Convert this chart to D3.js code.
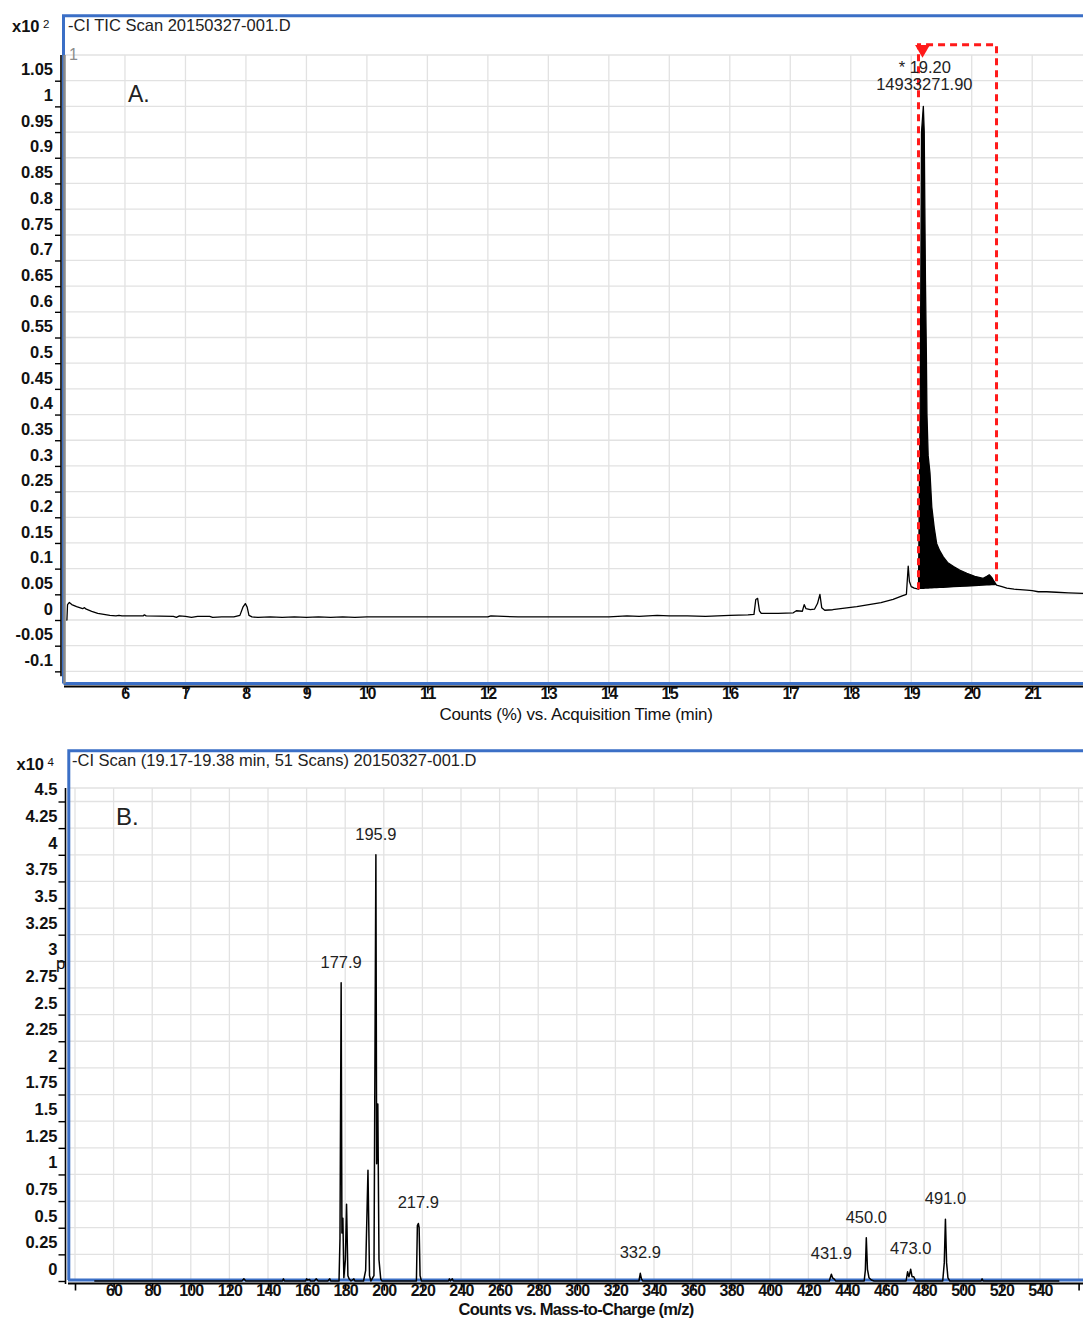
<!DOCTYPE html>
<html>
<head>
<meta charset="utf-8">
<script src="https://cdn.jsdelivr.net/npm/d3@7"></script>
<style>
  html, body { margin: 0; padding: 0; background: #ffffff; }
  svg { display: block; font-family: "Liberation Sans", Arial, Helvetica, sans-serif; }
</style>
</head>
<body>
<svg id="chart" width="1083" height="1320"></svg>
<script>
// ---------- Panel A: TIC chromatogram (Counts %, x10^2) ----------
const ticTime = [
  5.03, 5.04, 5.05, 5.08, 5.12, 5.20, 5.30, 5.33, 5.36, 5.45, 5.55, 5.65, 5.75, 5.85, 5.90, 5.95,
  6.30, 6.32, 6.35, 6.80, 6.85, 6.90, 7.00, 7.10, 7.20, 7.40, 7.45, 7.60, 7.80, 7.90, 7.95, 7.99,
  8.02, 8.05, 8.10, 8.20, 8.40, 8.60, 8.80, 9.00, 9.20, 9.40, 9.60, 9.80, 10.0, 10.5, 11.0, 11.5,
  12.0, 12.05, 12.5, 13.0, 13.5, 14.0, 14.3, 14.5, 14.8, 15.0, 15.3, 15.6, 16.0, 16.3, 16.40, 16.43,
  16.46, 16.49, 16.52, 16.8, 17.05, 17.10, 17.20, 17.23, 17.26, 17.33, 17.40, 17.45, 17.49, 17.52,
  17.57, 17.7, 17.9, 18.1, 18.3, 18.5, 18.7, 18.85, 18.92, 18.95, 18.97, 19.00, 19.05, 19.12,
  19.15, 19.17, 19.20, 19.215, 19.225, 19.235, 19.25, 19.26, 19.28, 19.31, 19.34, 19.38, 19.42,
  19.47, 19.53, 19.60, 19.70, 19.80, 19.92, 20.05, 20.19, 20.25, 20.29, 20.33, 20.37, 20.41,
  20.50, 20.58, 20.70, 20.80, 20.91, 21.00, 21.10, 21.24, 21.40, 21.60, 21.84
];
const ticCounts = [
  0.000, 0.000, 0.030, 0.034, 0.030, 0.026, 0.022, 0.024, 0.021, 0.017, 0.013, 0.011, 0.009, 0.008, 0.009, 0.008,
  0.008, 0.010, 0.008, 0.007, 0.005, 0.008, 0.007, 0.005, 0.007, 0.007, 0.005, 0.006, 0.006, 0.009, 0.025, 0.032,
  0.025, 0.009, 0.006, 0.005, 0.006, 0.005, 0.006, 0.005, 0.006, 0.005, 0.006, 0.005, 0.006, 0.006, 0.006, 0.006,
  0.006, 0.008, 0.006, 0.006, 0.006, 0.006, 0.008, 0.007, 0.009, 0.008, 0.008, 0.007, 0.009, 0.010, 0.011, 0.040,
  0.042, 0.018, 0.013, 0.013, 0.014, 0.018, 0.017, 0.030, 0.022, 0.020, 0.021, 0.032, 0.050, 0.024,
  0.019, 0.020, 0.023, 0.026, 0.030, 0.034, 0.040, 0.047, 0.050, 0.105, 0.075, 0.065, 0.062, 0.060,
  0.450, 0.950, 1.000, 0.950, 0.800, 0.660, 0.520, 0.400, 0.320, 0.286, 0.220, 0.180, 0.149,
  0.135, 0.123, 0.112, 0.104, 0.097, 0.091, 0.085, 0.081, 0.085, 0.088, 0.083, 0.075, 0.068,
  0.065, 0.062, 0.060, 0.059, 0.058, 0.057, 0.055, 0.055, 0.054, 0.053, 0.052
];
const ticTickTimes = [6, 7, 8, 9, 10, 11, 12, 13, 14, 15, 16, 17, 18, 19, 20, 21];
const ticTickCounts = [-0.1, -0.05, 0, 0.05, 0.1, 0.15, 0.2, 0.25, 0.3, 0.35, 0.4, 0.45, 0.5,
  0.55, 0.6, 0.65, 0.7, 0.75, 0.8, 0.85, 0.9, 0.95, 1, 1.05];
const ticGridCounts = ticTickCounts.concat([1.1]);
// integrated peak: start / end of the drawn baseline
const integStart = [19.12, 0.060];
const integEnd = [20.41, 0.068];
const apexTime = 19.20;
const apexCount = 1.0;
const apexArea = "14933271.90";

// ---------- Panel B: averaged mass spectrum (Counts, x10^4) ----------
const msMz = [
  50, 126.5, 127.5, 128.5, 147.5, 148, 148.5, 159.5, 160, 160.5, 161.5, 162, 164, 165, 166, 171, 172, 172.5,
  176.8, 177.3, 177.9, 178.3, 178.8, 179.3, 180.1, 180.7, 181.4, 182, 183, 184.5, 185,
  189.5, 190.6, 191.8, 192.6, 193.3, 194.9, 195.9, 196.3, 196.9, 197.5, 198.4, 199,
  216.9, 217.4, 217.9, 218.3, 218.8, 219.5, 233.5, 234, 234.5, 235.5, 236,
  332.2, 332.9, 333.5, 334.2, 430.8, 431.9, 432.5, 433.3, 434.2,
  448.9, 449.5, 450.0, 450.6, 451.4, 452.6, 454,
  470.6, 471.4, 472.1, 473.0, 473.7, 474.6, 475.6,
  489.6, 490.4, 491.0, 491.6, 492.3, 493.3, 509.5, 510, 510.5, 550
];
const msCounts = [
  0, 0, 0.02, 0, 0, 0.02, 0, 0, 0.02, 0.01, 0.015, 0, 0, 0.02, 0, 0, 0.02, 0,
  0, 0.40, 2.80, 0.45, 0.59, 0.03, 0.20, 0.72, 0.05, 0.02, 0, 0.02, 0,
  0, 0.10, 1.04, 0.05, 0, 0.05, 4.00, 1.10, 1.66, 0.20, 0.02, 0,
  0, 0.52, 0.54, 0.50, 0.05, 0, 0, 0.02, 0, 0.02, 0,
  0, 0.072, 0.02, 0, 0, 0.063, 0.03, 0.02, 0,
  0, 0.10, 0.405, 0.11, 0.03, 0.01, 0,
  0, 0.086, 0.04, 0.11, 0.04, 0.04, 0,
  0, 0.17, 0.58, 0.17, 0.03, 0, 0, 0.02, 0, 0
];
const msPeakMz = [177.9, 195.9, 217.9, 332.9, 431.9, 450.0, 473.0, 491.0];
const msPeakCounts = [2.80, 4.00, 0.54, 0.072, 0.063, 0.405, 0.11, 0.58];
const msTickMz = d3.range(40, 561, 20);
const msLabelMz = d3.range(60, 541, 20);
const msTickCounts = [0, 0.25, 0.5, 0.75, 1, 1.25, 1.5, 1.75, 2, 2.25, 2.5, 2.75, 3, 3.25, 3.5,
  3.75, 4, 4.25, 4.5];

// ---------- drawing ----------
const BLUE = "#3b6fc6";
const GRID = "#e2e2e2";
const svg = d3.select("#chart");
const trimNum = v => String(+v.toFixed(2));

// ===== Panel A =====
const xA = d3.scaleLinear().domain([5, 21.84]).range([64.5, 1083]);
const yA = d3.scaleLinear().domain([0, 1.05]).range([620, 80.7]);
const A = svg.append("g");
const aTop = yA(1.1), aBottom = 683.5;

A.append("g").selectAll("line").data(ticGridCounts).join("line")
  .attr("x1", 64).attr("x2", 1083)
  .attr("y1", d => yA(d)).attr("y2", d => yA(d))
  .attr("stroke", GRID).attr("stroke-width", 1.3);
A.append("g").selectAll("line").data(ticTickTimes).join("line")
  .attr("x1", d => xA(d)).attr("x2", d => xA(d))
  .attr("y1", aTop).attr("y2", aBottom)
  .attr("stroke", GRID).attr("stroke-width", 1.3);

const ticPts = ticTime.map((t, i) => [t, ticCounts[i]]);
const baseLine = d3.scaleLinear().domain([integStart[0], integEnd[0]]).range([integStart[1], integEnd[1]]);
const integPts = ticPts.filter(p => p[0] >= integStart[0] && p[0] <= integEnd[0]);
A.append("path")
  .attr("d", d3.area().x(d => xA(d[0])).y0(d => yA(baseLine(d[0]))).y1(d => yA(d[1]))(integPts))
  .attr("fill", "#000");
A.append("path")
  .attr("d", d3.line().x(d => xA(d[0])).y(d => yA(d[1]))(ticPts))
  .attr("fill", "none").attr("stroke", "#000").attr("stroke-width", 1.3)
  .attr("stroke-linejoin", "round");

// integration marker
const markerTop = 1.12;
A.append("path")
  .attr("d", d3.line().x(d => xA(d[0])).y(d => yA(d[1]))([
    integStart, [integStart[0], markerTop], [integEnd[0], markerTop], integEnd]))
  .attr("fill", "none").attr("stroke", "#ff1a1a").attr("stroke-width", 3)
  .attr("stroke-dasharray", "7,5");
A.append("path")
  .attr("d", d3.symbol(d3.symbolTriangle, 95)())
  .attr("transform", `translate(${xA(integStart[0]) + 4},${yA(markerTop) + 4.5}) rotate(180)`)
  .attr("fill", "#ff1a1a");

// apex label
A.append("text").attr("x", xA(apexTime) + 1.5).attr("y", yA(apexCount) - 33)
  .attr("text-anchor", "middle").attr("font-size", 16.5).attr("fill", "#222")
  .text("* " + apexTime.toFixed(2));
A.append("text").attr("x", xA(apexTime) + 1).attr("y", yA(apexCount) - 16)
  .attr("text-anchor", "middle").attr("font-size", 16.5).attr("fill", "#222")
  .text(apexArea);

// frame
A.append("path").attr("d", `M63.5,${aBottom} V15.8 H1090`)
  .attr("fill", "none").attr("stroke", BLUE).attr("stroke-width", 3);
A.append("line").attr("x1", 63.5).attr("x2", 1090).attr("y1", aBottom).attr("y2", aBottom)
  .attr("stroke", BLUE).attr("stroke-width", 3);
A.append("line").attr("x1", 64.5).attr("x2", 64.5).attr("y1", aTop).attr("y2", aBottom)
  .attr("stroke", "#8a8a8a").attr("stroke-width", 2.5);

// y axis
const yAxisA = A.append("g").attr("transform", "translate(61,0)")
  .call(d3.axisLeft(yA).tickValues(ticTickCounts).tickSize(6).tickPadding(2).tickFormat(trimNum));
yAxisA.select(".domain").attr("d", `M0,${aTop}V${yA(-0.1) + 5}`).attr("stroke-width", 1.6);
yAxisA.selectAll(".tick line").attr("stroke-width", 1.4);
yAxisA.selectAll(".tick text").attr("dy", "-0.35em").attr("font-size", 16.5)
  .attr("font-weight", "bold").attr("fill", "#111").attr("font-family", null);

// x axis
const xAxisA = A.append("g").attr("transform", "translate(0,686.5)")
  .call(d3.axisBottom(xA).tickValues(ticTickTimes).tickSize(7).tickPadding(-6));
xAxisA.select(".domain").attr("d", "M64,0H1083").attr("stroke-width", 2);
xAxisA.selectAll(".tick line").attr("stroke-width", 1.6);
xAxisA.selectAll(".tick text").attr("font-size", 16).attr("font-weight", "bold")
  .attr("fill", "#111").attr("font-family", null).attr("letter-spacing", -0.6);
A.append("text").attr("x", 576).attr("y", 720).attr("text-anchor", "middle")
  .attr("font-size", 17).attr("letter-spacing", -0.25).attr("fill", "#111")
  .text("Counts (%) vs. Acquisition Time (min)");

// titles
A.append("text").attr("x", 68).attr("y", 31).attr("font-size", 16.5).attr("fill", "#222")
  .text("-CI TIC Scan 20150327-001.D");
A.append("text").attr("x", 12).attr("y", 31.5).attr("font-size", 16.5).attr("font-weight", "bold")
  .attr("fill", "#111").text("x10");
A.append("text").attr("x", 43).attr("y", 28).attr("font-size", 11.5).attr("fill", "#111").text("2");
A.append("text").attr("x", 69).attr("y", 60).attr("font-size", 16).attr("fill", "#8c8c8c").text("1");
A.append("text").attr("x", 128).attr("y", 102).attr("font-size", 23).attr("fill", "#222").text("A.");

// ===== Panel B =====
const xB = d3.scaleLinear().domain([40, 560]).range([75, 1078.6]);
const yB = d3.scaleLinear().domain([0, 4.5]).range([1281, 801.5]);
const B = svg.append("g");
const bTop = 788, bBottom = 1280;

B.append("g").selectAll("line").data(msTickCounts.slice(1)).join("line")
  .attr("x1", 68).attr("x2", 1083)
  .attr("y1", d => yB(d)).attr("y2", d => yB(d))
  .attr("stroke", GRID).attr("stroke-width", 1.3);
B.append("line").attr("x1", 68).attr("x2", 1083).attr("y1", bTop).attr("y2", bTop)
  .attr("stroke", GRID).attr("stroke-width", 1.3);
B.append("g").selectAll("line").data(msTickMz).join("line")
  .attr("x1", d => xB(d)).attr("x2", d => xB(d))
  .attr("y1", bTop).attr("y2", bBottom)
  .attr("stroke", GRID).attr("stroke-width", 1.3);

// frame
B.append("path").attr("d", `M68.8,${bBottom} V750.7 H1090`)
  .attr("fill", "none").attr("stroke", BLUE).attr("stroke-width", 3);
B.append("line").attr("x1", 68).attr("x2", 1090).attr("y1", bBottom).attr("y2", bBottom)
  .attr("stroke", BLUE).attr("stroke-width", 3);

// spectrum
const msPts = msMz.map((m, i) => [m, msCounts[i]]);
B.append("path")
  .attr("d", d3.line().x(d => xB(d[0])).y(d => yB(d[1]))(msPts))
  .attr("fill", "none").attr("stroke", "#000").attr("stroke-width", 1.5)
  .attr("stroke-linejoin", "round");

B.append("g").selectAll("text").data(msPeakMz).join("text")
  .attr("x", d => xB(d)).attr("y", (d, i) => yB(msPeakCounts[i]) - 15)
  .attr("text-anchor", "middle").attr("font-size", 16.5).attr("fill", "#222")
  .text(d => d.toFixed(1));

// y axis
const yAxisB = B.append("g").attr("transform", "translate(65.5,0)")
  .call(d3.axisLeft(yB).tickValues(msTickCounts).tickSize(7).tickPadding(1).tickFormat(trimNum));
yAxisB.select(".domain").attr("d", `M0,${bTop}V1284`).attr("stroke-width", 1.6);
yAxisB.selectAll(".tick line").attr("stroke-width", 1.4);
yAxisB.selectAll(".tick text").attr("dy", "-0.4em").attr("font-size", 16.5)
  .attr("font-weight", "bold").attr("fill", "#111").attr("font-family", null);

// x axis
const xAxisB = B.append("g").attr("transform", "translate(0,1283.5)")
  .call(d3.axisBottom(xB).tickValues(msTickMz).tickSize(7).tickPadding(-6)
    .tickFormat(d => msLabelMz.includes(d) ? d : ""));
xAxisB.select(".domain").attr("d", "M68,0H1083").attr("stroke-width", 2);
xAxisB.selectAll(".tick line").attr("stroke-width", 1.6);
xAxisB.selectAll(".tick text").attr("font-size", 16).attr("font-weight", "bold")
  .attr("fill", "#111").attr("font-family", null).attr("letter-spacing", -0.8);
B.append("text").attr("x", 576).attr("y", 1315).attr("text-anchor", "middle")
  .attr("font-size", 16.5).attr("font-weight", "bold").attr("letter-spacing", -0.7).attr("fill", "#111")
  .text("Counts vs. Mass-to-Charge (m/z)");

// titles
B.append("text").attr("x", 72).attr("y", 766).attr("font-size", 16.5).attr("fill", "#222")
  .text("-CI Scan (19.17-19.38 min, 51 Scans) 20150327-001.D");
B.append("text").attr("x", 16.5).attr("y", 770).attr("font-size", 16.5).attr("font-weight", "bold")
  .attr("fill", "#111").text("x10");
B.append("text").attr("x", 47.5).attr("y", 766).attr("font-size", 11.5).attr("fill", "#111").text("4");
B.append("text").attr("x", 56).attr("y", 969).attr("font-size", 17).attr("fill", "#111").text("p");
B.append("text").attr("x", 116).attr("y", 825).attr("font-size", 24).attr("fill", "#222").text("B.");
</script>
</body>
</html>
